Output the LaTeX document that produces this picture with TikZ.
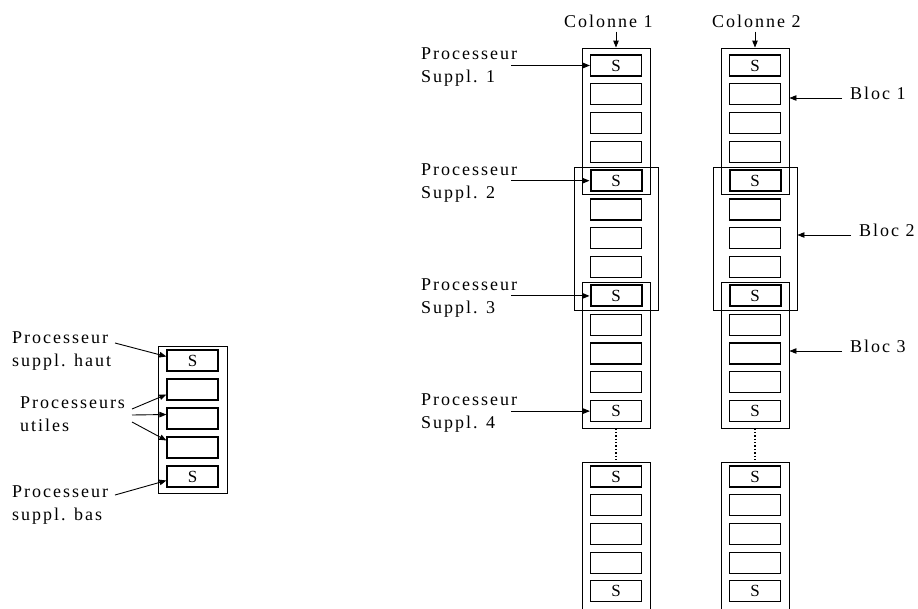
\documentclass[tikz,border=0pt]{standalone}
\usepackage{fontspec}
\setmainfont{Liberation Serif}[LetterSpace=11]
\newfontfamily\cellfont{Liberation Serif}
\usetikzlibrary{arrows.meta}
\begin{document}
\begin{tikzpicture}[x=1pt,y=-1pt,
  cell/.style={draw, line width=1.2pt, minimum width=51pt, minimum height=21pt, inner sep=0pt, font=\cellfont\fontsize{17}{17}\selectfont},
  scell/.style={cell, line width=2pt},
  outer/.style={draw, line width=0.9pt, inner sep=0pt},
  lbl/.style={anchor=base west, inner sep=0pt, font=\fontsize{18}{21}\selectfont},
  arr/.style={line width=0.9pt, -{Triangle[length=7pt,width=5.5pt]}},
  dots/.style={line width=1.4pt, dotted}]
\useasboundingbox (0,0) rectangle (918,608);

% ---------- left small diagram ----------
\node[outer, minimum width=69pt, minimum height=147pt] (lb) at (192.5,419.5) {};
\foreach \k/\t in {0/S,1/,2/,3/,4/S} {
  \node[cell] (l-\k) at (192.5, 360.5+29*\k) {\t};
}
\node[lbl] (lt1) at (12,343) {Processeur};
\node[lbl] (lt2) at (12,366) {suppl. haut};
\node[lbl] (lm1) at (20,408) {Processeurs};
\node[lbl] (lm2) at (20,431) {utiles};
\node[lbl] (lb1) at (12,497) {Processeur};
\node[lbl] (lb2) at (12,520) {suppl. bas};
\coordinate (u1) at (115,343);
\coordinate (u2) at (132,409);
\coordinate (u3) at (132,415);
\coordinate (u4) at (132,422);
\coordinate (u5) at (115,495);
\draw[arr] (u1) -- ([yshift=4pt]l-0.west);
\draw[arr] (u2) -- ([yshift=-5pt]l-1.west);
\draw[arr] (u3) -- ([yshift=4pt]l-2.west);
\draw[arr] (u4) -- ([yshift=7pt]l-3.west);
\draw[arr] (u5) -- ([yshift=-4pt]l-4.west);

% ---------- columns: blocks ----------
\node[outer, minimum width=68pt, minimum height=146pt] (b11) at (616,121) {};
\node[outer, minimum width=84pt, minimum height=143pt] (b12) at (616,238.5) {};
\node[outer, minimum width=68pt, minimum height=146pt] (b13) at (616,355) {};
\node[outer, minimum width=68pt, minimum height=146pt] (b21) at (755,121) {};
\node[outer, minimum width=84pt, minimum height=143pt] (b22) at (755,238.5) {};
\node[outer, minimum width=68pt, minimum height=146pt] (b23) at (755,355) {};

\foreach \k/\t/\st in {0/S/cell,1//cell,2//cell,3//cell,4/S/scell,5//cell,6//cell,7//cell,8/S/scell,9//cell,10//cell,11//cell,12/S/cell} {
  \node[\st] (c1-\k) at (616, 65.5+28.8*\k) {\t};
  \node[\st] (c2-\k) at (755, 65.5+28.8*\k) {\t};
}

% bottom partial columns
\draw[outer] (582,615) -- (582,462) -- (650,462) -- (650,615);
\draw[outer] (721,615) -- (721,462) -- (789,462) -- (789,615);
\foreach \k/\t in {0/S,1/,2/,3/,4/S} {
  \node[cell] (d1-\k) at (616, 476.5+28.7*\k) {\t};
  \node[cell] (d2-\k) at (755, 476.5+28.7*\k) {\t};
}
\coordinate (e1) at (616,462);
\coordinate (e2) at (755,462);
\draw[dots] (b13.south) -- (e1);
\draw[dots] (b23.south) -- (e2);

% column titles
\node[lbl] (k1t) at (564,27) {Colonne 1};
\node[lbl] (k2t) at (712,27) {Colonne 2};
\coordinate (k1) at ([yshift=16pt]b11.north);
\coordinate (k2) at ([yshift=16pt]b21.north);
\draw[arr] (k1) -- (b11.north);
\draw[arr] (k2) -- (b21.north);

% processeur suppl labels
\node[lbl] (p1a) at (421,59) {Processeur};
\node[lbl] (p1b) at (421,82) {Suppl. 1};
\node[lbl] (p2a) at (421,175) {Processeur};
\node[lbl] (p2b) at (421,198) {Suppl. 2};
\node[lbl] (p3a) at (421,290) {Processeur};
\node[lbl] (p3b) at (421,313) {Suppl. 3};
\node[lbl] (p4a) at (421,405) {Processeur};
\node[lbl] (p4b) at (421,428) {Suppl. 4};
\foreach \k/\n in {0/1,4/2,8/3,12/4} {
  \coordinate (a\n) at ([xshift=-78.5pt]c1-\k.west);
  \draw[arr] (a\n) -- (c1-\k.west);
}

% bloc labels
\node[lbl] (q1t) at (850,99) {Bloc 1};
\node[lbl] (q2t) at (859,236) {Bloc 2};
\node[lbl] (q3t) at (850,352) {Bloc 3};
\coordinate (q1) at (842,98);
\coordinate (q2) at (851,235);
\coordinate (q3) at (842,351);
\draw[arr] (q1) -- (q1 -| b21.east);
\draw[arr] (q2) -- (q2 -| b22.east);
\draw[arr] (q3) -- (q3 -| b23.east);
\end{tikzpicture}
\end{document}
